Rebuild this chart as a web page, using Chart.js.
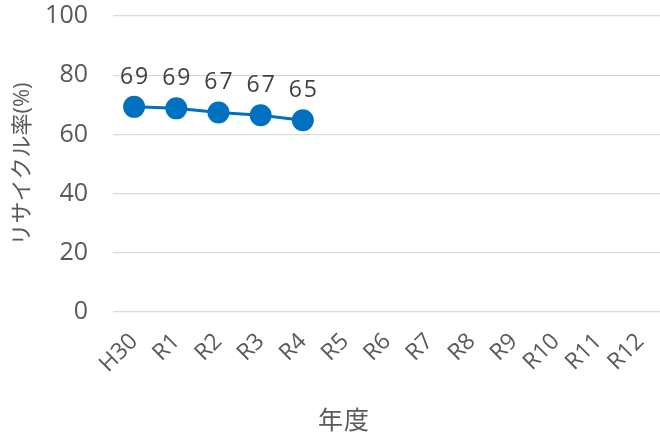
<!DOCTYPE html>
<html>
<head>
<meta charset="utf-8">
<script src="https://cdn.jsdelivr.net/npm/chart.js@4"></script>
<style>
  body { margin: 0; background: #fff; overflow: hidden; }
  #wrap { width: 674px; height: 438px; }
</style>
</head>
<body>
<div id="wrap"><canvas id="rateChart"></canvas></div>
<script>
const years = ['H30', 'R1', 'R2', 'R3', 'R4', 'R5', 'R6', 'R7', 'R8', 'R9', 'R10', 'R11', 'R12'];
const recycleRate = [69.3, 68.8, 67.4, 66.5, 64.8, null, null, null, null, null, null, null, null];
const rateLabels = ['69', '69', '67', '67', '65'];
const xTitle = '年度';
const yTitle = 'リサイクル率(%)';

const fontFamily = '"Open Sans", "Noto Sans CJK JP", sans-serif';

// value labels above the points + x axis title (Excel puts it left of center)
const extraText = {
    id: 'extraText',
    afterDatasetsDraw(chart) {
        const ctx = chart.ctx;
        const meta = chart.getDatasetMeta(0);
        ctx.save();
        ctx.font = '23px ' + fontFamily;
        ctx.letterSpacing = '2px';
        ctx.fillStyle = '#404040';
        ctx.textAlign = 'center';
        ctx.textBaseline = 'alphabetic';
        meta.data.forEach((pt, i) => {
            if (rateLabels[i] === undefined) return;
            ctx.fillText(rateLabels[i], pt.x + 1, pt.y - 23);
        });
        ctx.letterSpacing = '1px';
        ctx.font = '25px ' + fontFamily;
        ctx.fillStyle = '#595959';
        ctx.textBaseline = 'middle';
        ctx.fillText(xTitle, 344, 422);
        ctx.restore();
    }
};

new Chart(document.getElementById('rateChart').getContext('2d'), {
    type: 'line',
    data: {
        labels: years,
        datasets: [{
            data: recycleRate,
            borderColor: '#0070C0',
            backgroundColor: '#0070C0',
            borderWidth: 3,
            pointRadius: 9.5,
            pointHoverRadius: 9.5,
            tension: 0
        }]
    },
    options: {
        responsive: true,
        maintainAspectRatio: false,
        animation: false,
        layout: { padding: 0 },
        plugins: { legend: { display: false }, tooltip: { enabled: false } },
        scales: {
            x: {
                offset: true,
                grid: { display: false },
                border: { display: false },
                ticks: {
                    color: '#595959',
                    font: { family: fontFamily, size: 23 },
                    maxRotation: 45,
                    minRotation: 45,
                    autoSkip: false,
                    padding: 8
                },
                afterFit: scale => { scale.height = 126; }
            },
            y: {
                min: 0,
                max: 100,
                ticks: {
                    stepSize: 20,
                    color: '#595959',
                    font: { family: fontFamily, size: 25 },
                    padding: 25
                },
                grid: { color: '#d9d9d9', lineWidth: 1.3, drawTicks: false },
                border: { display: false },
                title: {
                    display: true,
                    text: yTitle,
                    color: '#595959',
                    font: { family: fontFamily, size: 22 },
                    padding: { top: 10, bottom: 0 }
                },
                afterFit: scale => {
                    scale.width = 113;
                    scale.paddingTop = 16;
                    scale.paddingBottom = 0;
                }
            }
        }
    },
    plugins: [extraText]
});
</script>
</body>
</html>
